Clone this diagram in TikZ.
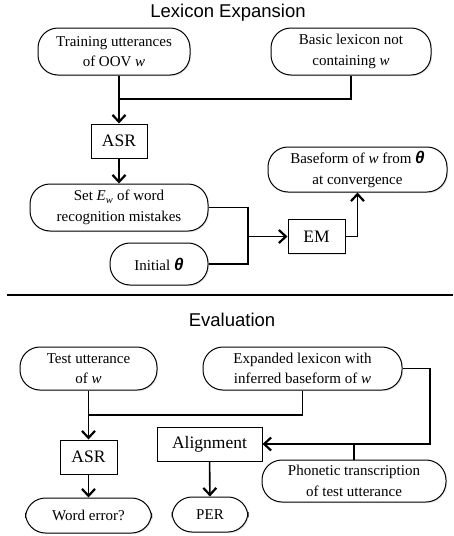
\documentclass[tikz,border=0pt]{standalone}
\usepackage{fontspec}
\setmainfont{Liberation Serif}
\newfontfamily\headfont{Liberation Sans}
\usetikzlibrary{positioning,arrows.meta,shadows}
\tikzset{
    roundbox/.style={rectangle,rounded corners=20pt,draw=black,line width=1pt,fill=white,align=center,text centered,minimum height=47pt,
        drop shadow={opacity=0.18,shadow xshift=1.2pt,shadow yshift=-1.2pt},font=\fontsize{15}{20.5}\selectfont},
    sqbox/.style={rectangle,draw=black,line width=1pt,fill=white,text centered,minimum height=34pt,
        drop shadow={opacity=0.18,shadow xshift=1.2pt,shadow yshift=-1.2pt},font=\fontsize{17.5}{20}\selectfont},
    heading/.style={font=\headfont\fontsize{18.5}{22}\selectfont},
    link/.style={line width=1.6pt},
    flow/.style={line width=1.6pt,-{Straight Barb[length=7pt,width=13pt,line width=2.2pt]}},
}
\newcommand{\wrd}{\textit{w}}
\newcommand{\thet}{{\headfont\fontsize{17}{20}\selectfont\bfseries\itshape θ}}

\begin{document}
\begin{tikzpicture}[x=1pt,y=-1pt]
\useasboundingbox (0,0) rectangle (454,536);
% lexicon expansion
\node[heading] (lexhead) at (228,13) {Lexicon Expansion};
\node[roundbox,minimum width=152pt] (train) at (114,51.5) {Training utterances\\of OOV \wrd};
\node[roundbox,minimum width=160pt] (basic) [right=80pt of train] {Basic lexicon not\\containing \wrd};
\node[sqbox,minimum width=56pt] (asr1) at (119,141) {ASR};
\node[roundbox,minimum width=178pt] (sete) [below=25pt of asr1] {Set \textit{E}\textsubscript{\textit{w}} of word\\recognition mistakes};
\node[roundbox,minimum width=98pt,minimum height=42pt] (init) at (159,264) {Initial \thet};
\node[sqbox,minimum width=57pt] (em) at (316.5,236.5) {EM};
\node[roundbox,minimum width=179pt,minimum height=45pt] (base) at (357.5,169.5) {Baseform of \wrd\ from \thet\\at convergence};
\coordinate (j1) at (119,99);
\coordinate (j2) at (248,236.5);
\draw[flow] (train.south -| asr1.north) -- (asr1.north);
\draw[link] (basic.south) |- (j1);
\draw[flow] (asr1) -- (sete);
\draw[link] (sete.east) -| (j2) |- (init.east);
\draw[flow] (j2) -- (em.west);
\draw[flow] (em.east) -| (base.south);
% divider
\draw[line width=1.2pt] (7,295) -- (453,295);
% evaluation
\node[heading] (evalhead) at (232,320) {Evaluation};
\node[roundbox,minimum width=137pt,minimum height=43pt] (test) at (88.5,368.5) {Test utterance\\of \wrd};
\node[roundbox,minimum width=199pt,minimum height=43pt] (expl) at (302.5,368.5) {Expanded lexicon with\\inferred baseform of \wrd};
\node[sqbox,minimum width=57pt] (asr2) at (88.5,457) {ASR};
\node[sqbox,minimum width=105pt] (align) at (209.5,444) {Alignment};
\node[roundbox,minimum width=184pt,minimum height=42pt] (phon) at (354,481) {Phonetic transcription\\of test utterance};
\node[roundbox,minimum width=126pt,minimum height=35pt] (word) [below=23pt of asr2] {Word error?};
\node[roundbox,minimum width=76pt,minimum height=35pt] (per) at (210,514.5) {PER};
\coordinate (j3) at (88.5,415);
\coordinate (j4) at (430,444);
\draw[flow] (test) -- (asr2);
\draw[link] (expl.south) |- (j3);
\draw[flow] (expl.east) -| (j4) -- (align.east);
\draw[link] (phon.north) -- (phon.north |- j4);
\draw[flow] (asr2) -- (word);
\draw[flow] (align) -- (per);
\end{tikzpicture}
\end{document}
